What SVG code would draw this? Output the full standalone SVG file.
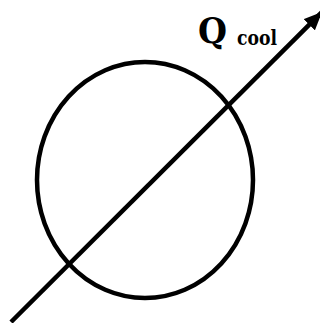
<svg xmlns="http://www.w3.org/2000/svg" width="320" height="323" viewBox="0 0 320 323">
<style>
.shape{fill:none;stroke:#000;stroke-width:4.5}
.lbl{font-family:"DejaVu Serif",serif;font-weight:700;fill:#000}
</style>
<defs>
<marker id="ah" markerUnits="userSpaceOnUse" markerWidth="20" markerHeight="16" refX="18" refY="8" orient="auto">
<path d="M0,0 L18,8 L0,16 Z" fill="#000"/>
</marker>
</defs>
<rect width="320" height="323" fill="#fff"/>
<g id="circle">
<ellipse class="shape" cx="145" cy="180" rx="108" ry="118"/>
</g>
<g id="connectors">
<line class="shape" x1="11" y1="322" x2="322" y2="12" marker-end="url(#ah)"/>
</g>
<g id="label">
<text class="lbl" x="198" y="43" font-size="36" textLength="29" lengthAdjust="spacingAndGlyphs">Q</text>
<text class="lbl" x="237" y="45" font-size="21" textLength="40" lengthAdjust="spacingAndGlyphs">cool</text>
</g>
</svg>
